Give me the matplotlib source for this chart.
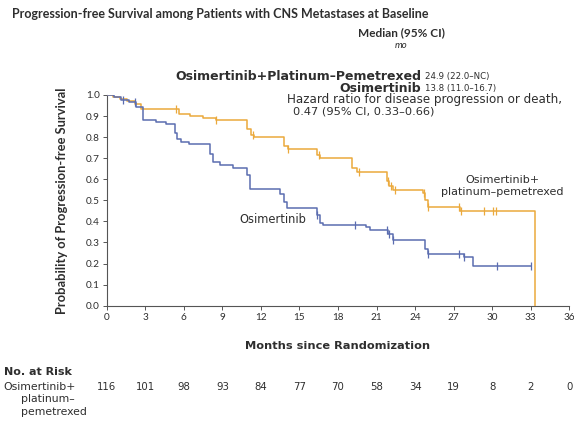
import matplotlib
matplotlib.use("Agg")
import matplotlib.pyplot as plt
import matplotlib.transforms as mtransforms
import numpy as np

plt.rcParams['font.family'] = ['Lato', 'DejaVu Sans']
WIDE = ['DejaVu Sans']

# Kaplan-Meier steps: (month, survival after the step)
combo_t = [0, 0.5, 1.0, 1.6, 2.2, 2.7, 5.6, 6.5, 7.5, 8.5, 10.9, 11.2, 11.5,
           13.8, 14.1, 16.4, 16.6, 19.1, 19.5, 21.8, 22.0, 22.3, 24.6, 24.8,
           25.0, 27.5, 33.3]
combo_s = [1.0, 0.99, 0.98, 0.97, 0.955, 0.934, 0.908, 0.90, 0.893, 0.881,
           0.84, 0.81, 0.802, 0.76, 0.745, 0.713, 0.70, 0.655, 0.635, 0.59,
           0.57, 0.55, 0.533, 0.50, 0.47, 0.451, 0.0]
combo_cens = [5.4, 8.5, 11.4, 14.1, 16.5, 19.6, 21.9, 22.1, 22.4, 24.7, 25.0,
              27.4, 27.6, 29.4, 30.1, 30.3]

osi_t = [0, 0.6, 1.1, 1.7, 2.3, 2.85, 3.8, 4.6, 5.3, 5.5, 5.8, 6.4, 8.0, 8.3,
         8.8, 9.8, 10.9, 11.15, 13.5, 13.8, 14.0, 16.35, 16.6, 16.85, 20.2,
         20.5, 21.9, 22.3, 24.8, 25.0, 27.8, 28.5, 33.05]
osi_s = [1.0, 0.99, 0.975, 0.965, 0.944, 0.881, 0.87, 0.861, 0.82, 0.79,
         0.778, 0.766, 0.72, 0.683, 0.668, 0.655, 0.62, 0.554, 0.53, 0.494,
         0.462, 0.43, 0.391, 0.383, 0.375, 0.359, 0.34, 0.312, 0.27, 0.245,
         0.233, 0.188, 0.188]
osi_cens = [1.3, 2.2, 16.4, 19.3, 21.8, 22.0, 22.3, 25.0, 27.4, 27.8, 30.4,
            33.0]

risk_months = [0, 3, 6, 9, 12, 15, 18, 21, 24, 27, 30, 33, 36]
risk_combo = [116, 101, 98, 93, 84, 77, 70, 58, 34, 19, 8, 2, 0]

BLUE = '#5b6db0'
ORANGE = '#eba93c'
INK = '#2e2e2e'

W, H = 574, 426


def px(x, y):
    return x / W, 1 - y / H


def step_value(t, times, surv):
    idx = np.searchsorted(times, t, side='right') - 1
    return np.asarray(surv)[idx]


fig = plt.figure(figsize=(W / 100, H / 100), dpi=100)
l, b = px(106.7, 305.7)
r, t = px(569.3, 95)
ax = fig.add_axes([l, b, r - l, t - b])

for times, surv, cens, col in [(combo_t, combo_s, combo_cens, ORANGE),
                               (osi_t, osi_s, osi_cens, BLUE)]:
    ax.step(times, surv, where='post', color=col, lw=1.1, zorder=3)
    ax.plot(cens, step_value(cens, times, surv), ls='none', marker='|',
            ms=6, mew=0.9, color=col, zorder=3)

ax.set_xlim(0, 36)
ax.set_ylim(0, 1.0)
ax.set_xticks(risk_months)
ax.set_yticks(np.arange(0, 1.01, 0.1))
ax.set_yticklabels([f'{v:.1f}' for v in np.arange(0, 1.01, 0.1)])
for s in ['top', 'right']:
    ax.spines[s].set_visible(False)
for s in ['left', 'bottom']:
    ax.spines[s].set_color('#555555')
    ax.spines[s].set_linewidth(0.8)
ax.tick_params(colors='#555555', labelcolor=INK, labelsize=7.2, length=3,
               width=0.7, pad=2)

# headers
fig.text(*px(12, 14), 'Progression-free Survival among Patients with CNS Metastases at Baseline',
         fontsize=9, fontweight='bold', color=INK, va='center')
fig.text(*px(401, 33), 'Median (95% CI)', fontsize=8.5, fontweight='bold',
         color=INK, ha='center', va='center')
fig.text(*px(401, 46), 'mo', fontsize=7, style='italic', color=INK,
         ha='center', va='center')
fig.text(*px(421, 76), 'Osimertinib+Platinum\u2013Pemetrexed', fontsize=9,
         family=WIDE, fontweight='bold', color=INK, ha='right', va='center')
fig.text(*px(425, 76), '24.9 (22.0\u2013NC)', fontsize=6.2, family=WIDE,
         color=INK, va='center')
fig.text(*px(421, 88), 'Osimertinib', fontsize=9, family=WIDE,
         fontweight='bold', color=INK, ha='right', va='center')
fig.text(*px(425, 88), '13.8 (11.0\u201316.7)', fontsize=6.2, family=WIDE,
         color=INK, va='center')
fig.text(*px(287, 100), 'Hazard ratio for disease progression or death,',
         fontsize=8.6, family=WIDE, color=INK, va='center')
fig.text(*px(293, 111), '0.47 (95% CI, 0.33\u20130.66)', fontsize=8.2,
         family=WIDE, color=INK, va='center')

# curve labels
ax.text(12.9, 0.41, 'Osimertinib', fontsize=8.3, family=WIDE, color=INK,
        ha='center', va='center')
ax.text(30.8, 0.57, 'Osimertinib+\nplatinum\u2013pemetrexed', fontsize=8,
        family=WIDE, color=INK, ha='center', va='center', linespacing=1.25)

ax.set_xlabel('Months since Randomization', fontsize=8.2, family=WIDE,
              fontweight='bold', color=INK, labelpad=14)
ax.set_ylabel('Probability of Progression-free Survival', fontsize=9.3,
              fontweight='bold', color=INK, labelpad=13)

# numbers at risk
fig.text(*px(4, 372), 'No. at Risk', fontsize=8, family=WIDE,
         fontweight='bold', color=INK, va='center')
fig.text(*px(3, 387), 'Osimertinib+', fontsize=7.8, family=WIDE, color=INK,
         va='center')
fig.text(*px(21, 399.5), 'platinum\u2013', fontsize=7.8, family=WIDE,
         color=INK, va='center')
fig.text(*px(21, 412), 'pemetrexed', fontsize=7.8, family=WIDE, color=INK,
         va='center')
risk_tr = mtransforms.blended_transform_factory(ax.transData, fig.transFigure)
for m, n in zip(risk_months, risk_combo):
    ax.text(m, 1 - 387 / H, str(n), fontsize=7.3, family=WIDE, color=INK,
            ha='center', va='center', transform=risk_tr, clip_on=False)

fig.savefig('out.png', dpi=100)
